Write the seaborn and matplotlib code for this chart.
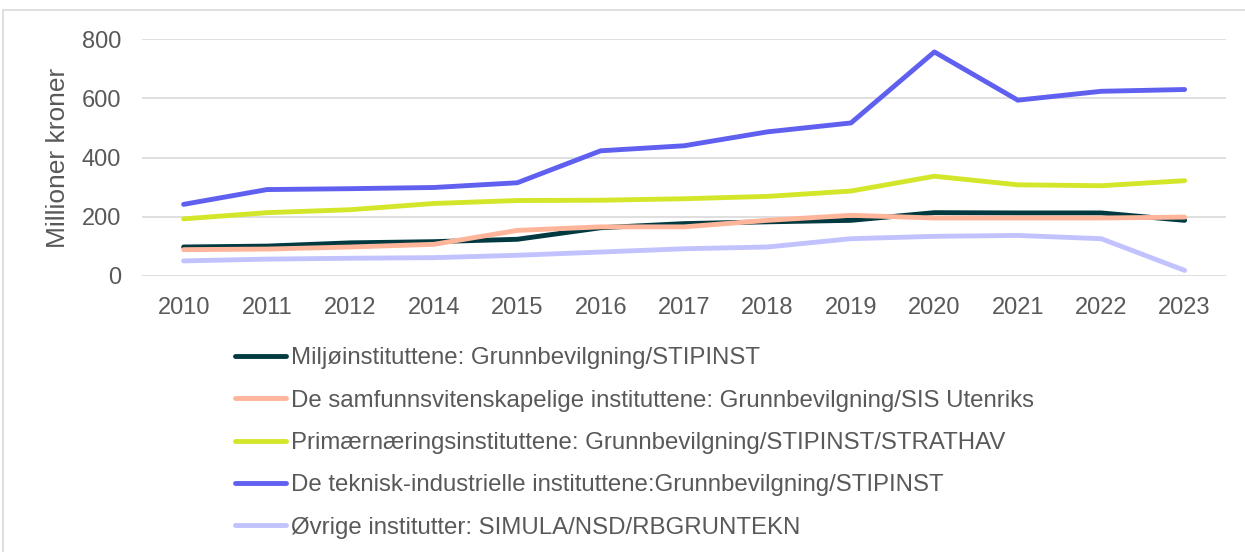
import numpy as np
import pandas as pd
import matplotlib.pyplot as plt
import matplotlib.patches as mpatches
import seaborn as sb

years = ['2010', '2011', '2012', '2014', '2015', '2016', '2017',
         '2018', '2019', '2020', '2021', '2022', '2023']

miljo = [98, 101, 112, 116, 124, 163, 177, 183, 188, 214, 213, 213, 188]
samfunn = [89, 91, 98, 107, 154, 166, 166, 188, 205, 196, 196, 196, 199]
primaer = [193, 214, 224, 245, 255, 256, 261, 269, 287, 337, 308, 305, 322]
teknisk = [242, 292, 295, 299, 315, 423, 440, 487, 517, 757, 594, 624, 630]
ovrige = [51, 57, 60, 62, 70, 81, 92, 98, 126, 134, 137, 126, 19]

labels = ['Miljøinstituttene: Grunnbevilgning/STIPINST',
          'De samfunnsvitenskapelige instituttene: Grunnbevilgning/SIS Utenriks',
          'Primærnæringsinstituttene: Grunnbevilgning/STIPINST/STRATHAV',
          'De teknisk-industrielle instituttene:Grunnbevilgning/STIPINST',
          'Øvrige institutter: SIMULA/NSD/RBGRUNTEKN']
colors = ['#003a40', '#ffb59a', '#d4e62a', '#5f5ff0', '#c2c2ff']

series = [miljo, samfunn, primaer, teknisk, ovrige]
df = pd.concat([pd.DataFrame({'year': years, 'value': vals, 'serie': lab})
                for lab, vals in zip(labels, series)], ignore_index=True)

sb.set_style('white')
plt.rcParams['font.family'] = ['Liberation Sans', 'DejaVu Sans']
text_color = '#595959'

fig = plt.figure(figsize=(12.45, 5.52), dpi=100)
ax = fig.add_axes([0.114, 0.5, 0.871, 0.429])

sb.lineplot(data=df, x='year', y='value', hue='serie', palette=colors,
            linewidth=3.5, ax=ax, sort=False, solid_capstyle='round')

ax.set_xlim(-0.5, len(years) - 0.5)
ax.set_ylim(0, 800)
ax.set_yticks([0, 200, 400, 600, 800])
ax.yaxis.grid(True, color='#d9d9d9', linewidth=1.2)
ax.set_axisbelow(True)
for s in ax.spines.values():
    s.set_visible(False)
ax.tick_params(axis='both', length=0, labelsize=17, colors=text_color)
ax.tick_params(axis='x', pad=15)
ax.tick_params(axis='y', pad=15)
ax.set_xlabel('')
ax.set_ylabel('Millioner kroner', fontsize=19, color=text_color, labelpad=8)

handles, labs = ax.get_legend_handles_labels()
ax.legend(handles, labs, loc='upper left', bbox_to_anchor=(0.189, 0.371),
          bbox_transform=fig.transFigure, frameon=False, fontsize=17.3,
          handlelength=2.1, handletextpad=0.2, labelspacing=0.85,
          borderpad=0, borderaxespad=0, labelcolor=text_color)

# light frame around the chart
fig.patches.append(mpatches.Rectangle((3 / 1245, -0.01), 1.0, 1 - 10 / 552 + 0.01,
                                      transform=fig.transFigure, fill=False,
                                      edgecolor='#d9d9d9', linewidth=1.2))

fig.savefig('out.png', dpi=100)
